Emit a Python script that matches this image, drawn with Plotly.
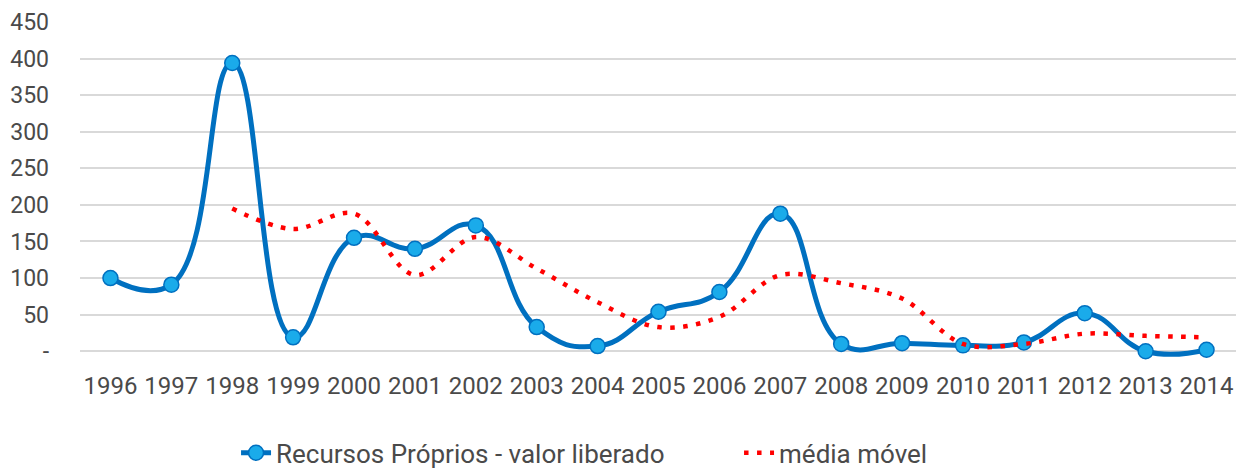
import plotly.graph_objects as go

years = ["1996", "1997", "1998", "1999", "2000", "2001", "2002", "2003", "2004", "2005",
         "2006", "2007", "2008", "2009", "2010", "2011", "2012", "2013", "2014"]
recursos = [100, 91, 394, 19, 155, 140, 172, 33, 7, 54, 81, 188, 10, 11, 8, 12, 52, 0, 2]
media_movel = [None, None, 195, 167, 188, 104, 156, 113, 67, 33, 47, 104, 93, 72, 10, 10, 24, 21, 19]
y_ticks = [0, 50, 100, 150, 200, 250, 300, 350, 400, 450]
y_tick_labels = ["-", "50", "100", "150", "200", "250", "300", "350", "400", "450"]

FONT = "Roboto, sans-serif"
TXT = "#4a4a4a"

fig = go.Figure()
fig.add_trace(go.Scatter(
    x=years, y=recursos, name="Recursos Próprios - valor liberado",
    mode="lines+markers",
    line=dict(color="#0070C0", width=5, shape="spline", smoothing=1.3),
    marker=dict(size=15, color="#1AABEA", line=dict(color="#0070C0", width=1.5)),
    cliponaxis=False,
))
fig.add_trace(go.Scatter(
    x=years, y=media_movel, name="média móvel",
    mode="lines",
    line=dict(color="#FF0000", width=4.5, dash="4.5px,8.5px", shape="spline", smoothing=1.0),
    cliponaxis=False,
))

# the page body adds an 8px margin, so the figure is 8px smaller than the window
fig.update_layout(
    width=1236, height=460,
    margin=dict(l=72, r=7, t=14, b=108),
    paper_bgcolor="white", plot_bgcolor="white",
    font=dict(family=FONT, color=TXT, size=24),
    showlegend=True,
    legend=dict(orientation="h", xref="container", yref="container",
                x=0.1845, xanchor="left", y=0.033, yanchor="middle",
                font=dict(family=FONT, size=26, color=TXT),
                entrywidth=458, traceorder="normal",
                bgcolor="rgba(0,0,0,0)"),
    xaxis=dict(type="category", range=[-0.5, 18.5], showgrid=False, zeroline=False,
               showline=False, ticks="", tickangle=0, ticklabelstandoff=9,
               automargin=False,
               tickfont=dict(family=FONT, size=24, color=TXT)),
    yaxis=dict(range=[-12, 450], tickvals=y_ticks, ticktext=y_tick_labels,
               showgrid=True, gridcolor="#D9D9D9", gridwidth=2,
               zeroline=False, showline=False, ticks="",
               ticklabelstandoff=30, automargin=False,
               tickfont=dict(family=FONT, size=23, color=TXT)),
)

fig.write_html("out.html")
